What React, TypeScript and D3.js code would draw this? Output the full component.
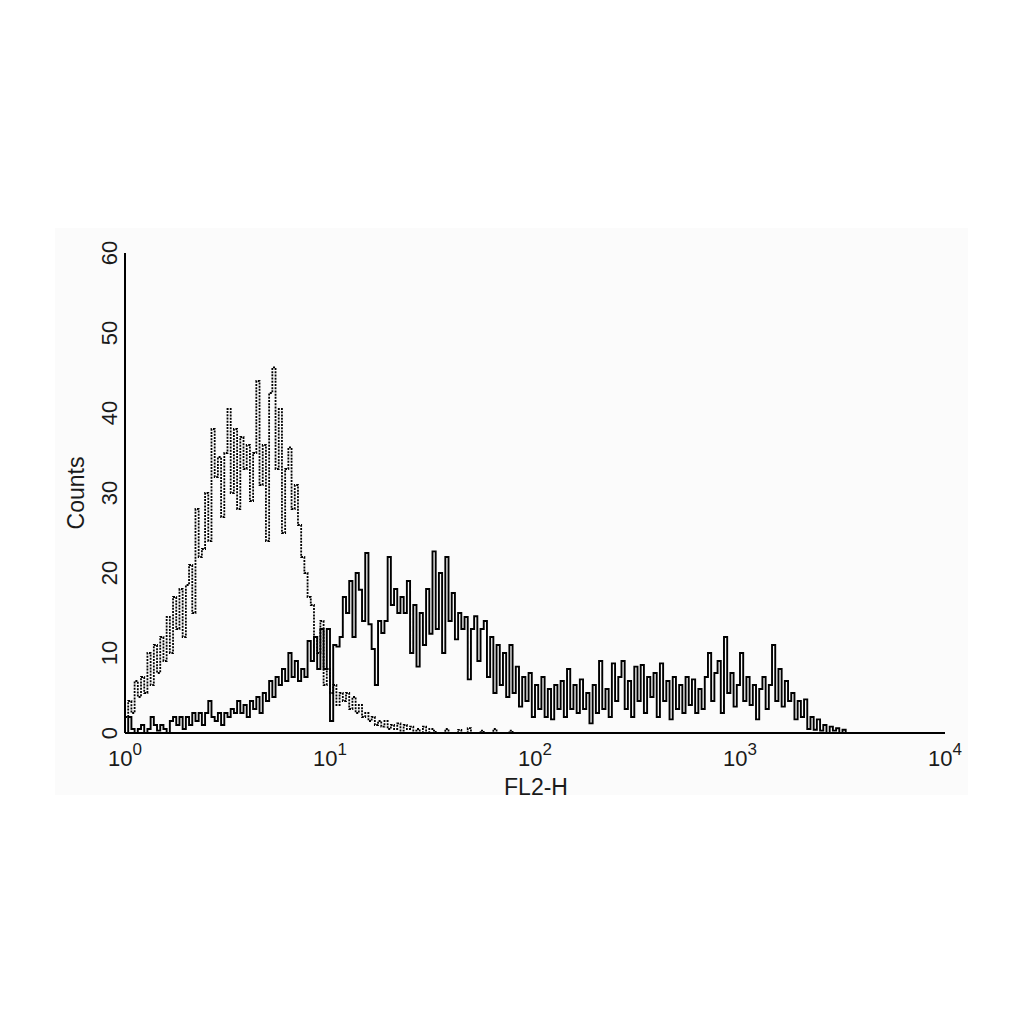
import * as d3 from 'd3';

// FL2-H histograms, 64 channels per decade, counts
const isotypeCounts = [
  2, 4, 2.5, 6.5, 4.5, 7, 5, 10, 6, 11,
  7.5, 12, 9, 14.5, 10, 17, 13, 18, 12, 18.5,
  21, 15, 28, 22, 23, 30, 24, 38, 32, 34.5,
  27, 35, 40.5, 30, 38, 28, 37, 33, 36, 29,
  35, 44, 31, 36, 24, 42.5, 45.7, 33, 40.5, 25,
  33, 35.7, 28, 31, 26, 22, 20, 17, 16, 12,
  10, 14, 6, 8, 5, 6, 3.5, 5, 4, 5,
  3, 4.5, 2.5, 3.5, 2, 2.5, 1.5, 2, 1, 1.5,
  0.8, 1.5, 0.5, 1, 0.5, 1.2, 0.3, 1, 0.5, 0.8,
  0.3, 0.5, 0, 0.8, 0, 0.5, 0.3, 0, 0, 0,
  0.5, 0, 0, 0, 0.4, 0, 0, 0.6, 0, 0,
  0, 0.3, 0, 0, 0, 0.5, 0, 0, 0, 0,
  0.3, 0,
];

const stainedCounts = [
  0, 2, 0.5, 0, 0.5, 1, 0, 0.5, 2, 1,
  0.3, 1, 0.5, 0, 1.5, 2, 1, 2, 0.5, 2,
  1, 2.5, 1.5, 2.5, 1, 2.5, 4, 2, 1.5, 2.5,
  1, 2.5, 2, 3, 2.5, 4, 2.5, 3.5, 2, 4,
  3, 4.5, 2.5, 5, 4, 6.5, 4.5, 7, 6, 8,
  6.5, 10, 7, 9, 6.5, 8, 7, 11.5, 9, 12,
  8, 13, 8, 13, 1.5, 11, 10.8, 12, 17, 15,
  19, 12, 20, 17.9, 14, 22.5, 13.6, 10.5, 6, 14,
  12.5, 14, 22, 16, 18, 15, 17, 15, 19, 10,
  16, 8.3, 15, 11, 18, 12.4, 22.7, 13, 20, 10,
  22, 14, 17.5, 11.7, 15, 13, 14.5, 6.7, 13, 14.6,
  9, 13, 14, 7, 12, 5, 11, 6, 10, 4.5,
  11, 5, 8.3, 3.3, 7, 4, 7.5, 2, 6, 3,
  7, 2, 5.5, 1.7, 6, 3, 6.5, 2, 8, 3,
  6, 2.5, 6.7, 3, 5, 1.2, 6, 2.5, 9, 3,
  5.5, 2, 8.7, 4, 7, 9, 3, 6.5, 2, 8.3,
  4, 8.5, 2.5, 7, 4.5, 7.5, 2, 8.7, 4, 6.5,
  1.7, 7, 3, 6, 2.5, 7, 3.5, 6.7, 2.5, 5.5,
  3, 7, 10, 4, 7.5, 9, 2.5, 12, 5, 7.5,
  3.3, 6, 10, 4, 7, 3.5, 6, 1.7, 5.5, 7,
  3, 6, 11, 4, 8, 3.3, 6.5, 4, 5, 1.7,
  4, 2, 4.2, 0.5, 2, 0.4, 1.7, 0.3, 1, 0,
  0.8, 0.3, 0.6, 0, 0.4,
];

const channelsPerDecade = 64;
const xTickExponents = [0, 1, 2, 3, 4];
const yTicks = [0, 10, 20, 30, 40, 50, 60];

const font = "'Liberation Sans', Arial, Helvetica, sans-serif";

export default function App() {
  const margin = { top: 253, right: 79, bottom: 291, left: 125 };
  const width = 1024;
  const height = 1024;

  const x = d3.scaleLog().domain([1, 1e4]).range([margin.left, width - margin.right]);
  const y = d3.scaleLinear().domain([0, 60]).range([height - margin.bottom, margin.top]);

  const toPoints = (counts: number[]): [number, number][] =>
    counts
      .map((v, i) => [Math.pow(10, i / channelsPerDecade), v] as [number, number])
      .concat([[Math.pow(10, counts.length / channelsPerDecade), 0]]);

  const line = d3.line<[number, number]>()
    .x(d => x(d[0]))
    .y(d => y(d[1]))
    .curve(d3.curveStepAfter);

  const x0 = x(1);
  const x1 = x(1e4);
  const y0 = y(0);
  const y1 = y(60);

  return (
    <svg
      width={width}
      height={height}
      style={{ position: 'absolute', left: 0, top: 0, display: 'block', background: '#fff' }}
      fontFamily={font}
    >
      <rect x={55} y={228} width={913} height={567} fill="#fbfbfb" />

      {/* histograms */}
      <path
        d={line(toPoints(isotypeCounts)) || ''}
        fill="none"
        stroke="#000"
        strokeWidth={1.8}
        strokeDasharray="2,1.2"
      />
      <path
        d={line(toPoints(stainedCounts)) || ''}
        fill="none"
        stroke="#000"
        strokeWidth={1.9}
      />

      {/* axes */}
      <line x1={x0} y1={y1} x2={x0} y2={y0} stroke="#000" strokeWidth={2} />
      <line x1={x0} y1={y0} x2={x1} y2={y0} stroke="#000" strokeWidth={2} />

      {yTicks.map(t => (
        <text
          key={t}
          transform={`translate(117,${y(t)}) rotate(-90)`}
          textAnchor="middle"
          fontSize={22}
          fill="#1a1a1a"
        >
          {t}
        </text>
      ))}

      {xTickExponents.map(e => (
        <text
          key={e}
          x={x(Math.pow(10, e))}
          y={766}
          textAnchor="middle"
          fontSize={22}
          fill="#1a1a1a"
        >
          <tspan>10</tspan>
          <tspan dy={-11} fontSize={17}>{e}</tspan>
        </text>
      ))}

      <text
        transform={`translate(84,${(y0 + y1) / 2}) rotate(-90)`}
        textAnchor="middle"
        fontSize={23}
        fill="#1a1a1a"
      >
        Counts
      </text>
      <text x={536} y={795} textAnchor="middle" fontSize={23} fill="#1a1a1a">
        FL2-H
      </text>
    </svg>
  );
}
